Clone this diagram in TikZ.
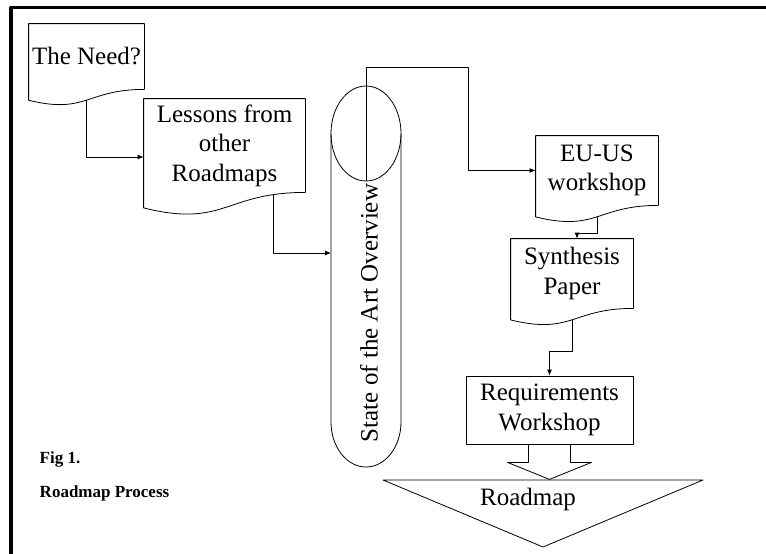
\documentclass[tikz,border=0pt]{standalone}
\usepackage{fontspec}
\setmainfont{Liberation Serif}
\usetikzlibrary{calc,arrows.meta}

\tikzset{
  doc/.style 2 args={draw=none, minimum width=#1, minimum height=#2, inner sep=0pt, align=center},
  proc/.style 2 args={draw, minimum width=#1, minimum height=#2, inner sep=0pt, align=center},
  capt/.style={anchor=base west, font=\fontsize{17}{20}\selectfont\bfseries}
}

\begin{document}
\begin{tikzpicture}[x=1pt, y=-1pt, line width=.8pt, line join=round, >={Latex[length=6pt,width=5pt]}, font=\fontsize{25}{29.5}\selectfont]
    \useasboundingbox (0,0) rectangle (766,554);
    \draw[line width=3.5pt] (11,554) -- (11,7.5) -- (766,7.5);
    % documents
    \node[doc={115pt}{65pt}] (need) at (86.5,56.5) {The Need?};
    \node[doc={161pt}{93pt}] (lessons) at (224.5,145.5) {Lessons from\\other\\Roadmaps};
    \node[doc={122pt}{69pt}] (euus) at (597,170.5) {EU-US\\workshop};
    \node[doc={122pt}{69pt}] (synth) at (572,273.5) {Synthesis\\Paper};
    \foreach \n in {need,lessons,euus,synth} {
        \draw (\n.south east) |- (\n.north west) -- ($(\n.south west)!-.165!(\n.north west)$)
            .. controls ($(\n.south)!-.381!(\n.north)$) and (\n.south) .. (\n.south east);
        \coordinate (\n-w) at ($(\n.south)!-.163!(\n.north)$);
    }
    \node[proc={167pt}{68pt}] (req) at (549.5,410) {Requirements\\Workshop};
    % state of the art
    \draw (366,133.5) ellipse [x radius=35, y radius=47.5];
    \draw (331,133.5) -- (331,422) arc[start angle=180, end angle=0, x radius=35, y radius=45] -- (401,133.5);
    \node[rotate=90] (sota) at (369,313) {State of the Art Overview};
    \coordinate (sota-top) at (366,181);
    \coordinate (sota-in) at (331,253);
    % connectors
    \draw[->] (need-w) |- ([yshift=-11.5pt]lessons.west);
    \draw[->] ($(lessons.south west)!.8!(lessons.south east)+(0,2)$) |- (sota-in);
    \draw[->] (sota-top) |- (468,67) |- (euus.west);
    \draw[->] (euus-w) -- ++(0,17) -| ([xshift=5pt]synth.north);
    \draw[->] (synth-w) -- ++(0,32) -| (req.north);
    \draw[shift={(req.south)}] (-21,0) -- (-21,18) -- (-42,18) -- (0,35) -- (42,18) -- (21,18) -- (21,0);
    % roadmap
    \draw (383,480) -- (703,480) -- (543,547) -- cycle;
    \node (roadmap) at (528,499) {Roadmap};
    \node[capt] (fig) at (36,463) {Fig 1.};
    \node[capt] (caption) at (36,497) {Roadmap Process};
\end{tikzpicture}
\end{document}
